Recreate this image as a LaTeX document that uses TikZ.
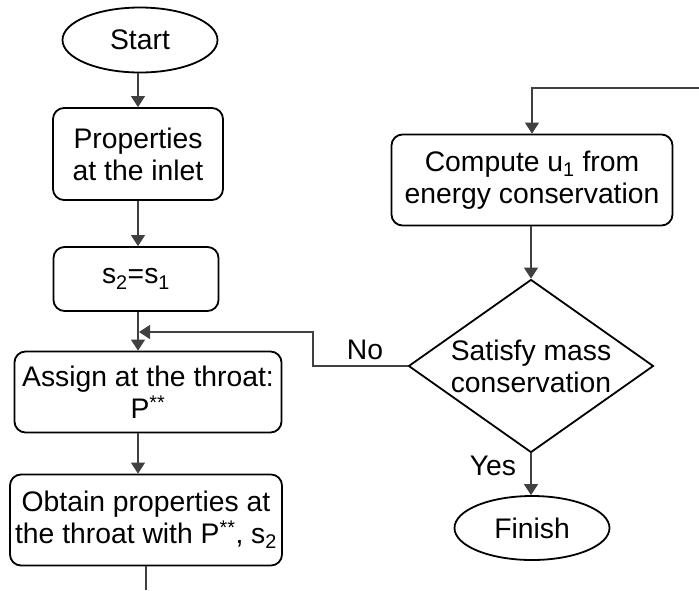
\documentclass[tikz,border=0pt]{standalone}
\usepackage{fontspec}
\setmainfont{Liberation Sans}
\usetikzlibrary{shapes.geometric,arrows.meta}
\begin{document}
\begin{tikzpicture}[x=1pt,y=-1pt,
  box/.style={draw,line width=1.8pt,rounded corners=11pt,align=center,inner sep=0pt},
  term/.style={draw,ellipse,line width=1.8pt,inner sep=0pt},
  dec/.style={draw,diamond,line width=1.8pt,inner sep=0pt,aspect=1.416,minimum width=245pt,minimum height=173pt,align=center},
  conn/.style={draw=black!75,line width=1.1pt},
  arr/.style={conn,-{Triangle[width=14pt,length=11pt]}},
  lbl/.style={inner sep=0pt,anchor=base},
  font=\fontsize{28.3}{32}\selectfont]
\fill[white] (0,0) rectangle (699,590);
\useasboundingbox (0,0) rectangle (699,590);

\node[term,minimum width=155pt,minimum height=65pt] (start) at (140,40) {Start};
\node[box,minimum width=170pt,minimum height=92pt] (props) at (138,154) {Properties\\ at the inlet};
\node[box,minimum width=165pt,minimum height=64pt] (s2) at (136,279) {s\textsubscript{2}=s\textsubscript{1}};
\node[box,minimum width=267pt,minimum height=81pt] (assign) at (148,392) {Assign at the throat:\\P\textsuperscript{**}};
\node[box,minimum width=272pt,minimum height=91pt] (obtain) at (146,520) {Obtain properties at\\the throat with P\textsuperscript{**}, s\textsubscript{2}};
\node[box,minimum width=281pt,minimum height=91pt] (compute) at (532,180) {Compute u\textsubscript{1} from\\energy conservation};
\node[dec] (dec) at (531,366) {Satisfy mass\\conservation};
\node[term,minimum width=155pt,minimum height=64pt] (finish) at (532,528) {Finish};

\coordinate (j) at (139,332);
\coordinate (nb) at (313,332);
\coordinate (out) at (146,590);
\coordinate (in) at (699,88);
\coordinate (inc) at (532,88);

\draw[arr] (start.south -| 138,0) -- (props.north -| 138,0);
\draw[arr] (props.south -| 138,0) -- (s2.north -| 138,0);
\draw[arr] (s2.south -| 138,0) -- (assign.north -| 138,0);
\draw[arr] (assign.south -| 138,0) -- (obtain.north -| 138,0);
\draw[conn] (obtain.south) -- (out);
\draw[arr] (in) -- (inc) -- (compute.north);
\draw[arr] (compute.south -| dec.north) -- (dec.north);
\draw[arr] (dec.west) -| (nb) -- (j);
\draw[arr] (dec.south) -- (dec.south |- finish.north);

\node[lbl] (no) at (365,359) {No};
\node[lbl] (yes) at (493,475) {Yes};
\end{tikzpicture}
\end{document}
